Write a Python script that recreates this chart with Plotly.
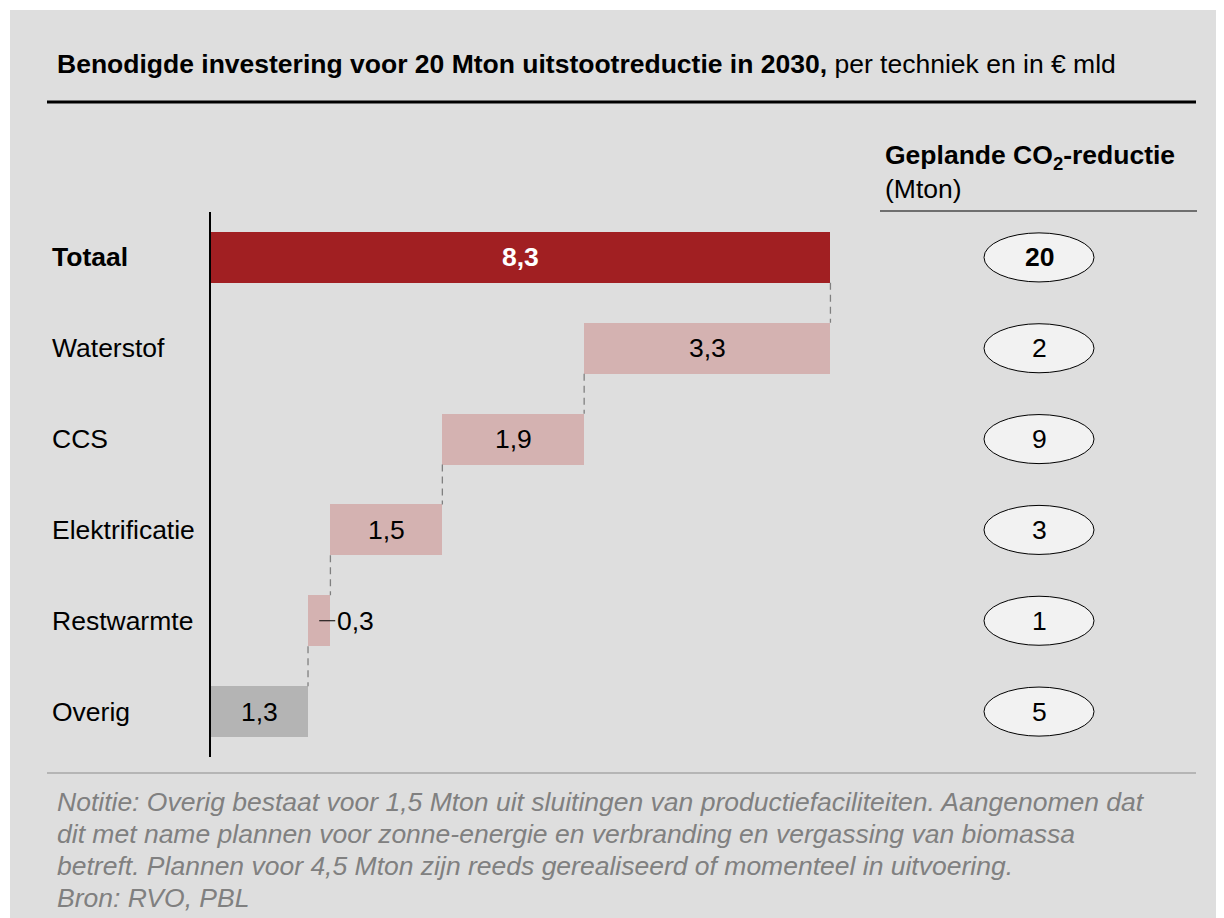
import plotly.graph_objects as go

categories = ["Totaal", "Waterstof", "CCS", "Elektrificatie", "Restwarmte", "Overig"]
invest = [8.3, 3.3, 1.9, 1.5, 0.3, 1.3]          # € mld
co2_reductie = [20, 2, 9, 3, 1, 5]               # Mton
bar_colors = ["#A11F22", "#D4B2B1", "#D4B2B1", "#D4B2B1", "#D4B2B1", "#B4B4B4"]

subtitle_bold = "Benodigde investering voor 20 Mton uitstootreductie in 2030,"
subtitle_rest = " per techniek en in € mld"
notes = [
    "Notitie: Overig bestaat voor 1,5 Mton uit sluitingen van productiefaciliteiten. Aangenomen dat",
    "dit met name plannen voor zonne-energie en verbranding en vergassing van biomassa",
    "betreft. Plannen voor 4,5 Mton zijn reeds gerealiseerd of momenteel in uitvoering.",
    "Bron: RVO, PBL",
]

FONT = "Liberation Sans, Arial, sans-serif"
FS = 26.5
OFF = 8                        # page body margin
W, H = 1224 - OFF, 918 - OFF
L, T = 211 - OFF, 212 - OFF    # plot area origin (figure px)
PW, PH = 709, 545
XMAX = 9.5

# helpers take page pixel positions
def px(x):
    return (x - OFF - L) / PW

def py(y):
    return 1 - (y - OFF - T) / PH

# waterfall bases: Totaal and the lowest part start at 0, others stack from below
n = len(categories)
bases = [0.0] * n
run = 0.0
for i in range(n - 1, 0, -1):
    bases[i] = run
    run += invest[i]

ys = list(range(n))
bar_w = 0.56

fig = go.Figure()
fig.add_trace(go.Bar(
    y=ys, x=invest, base=bases, orientation="h", width=bar_w,
    marker=dict(color=bar_colors, line=dict(width=0)),
    hoverinfo="skip", showlegend=False))

fmt = lambda v: f"{v:.1f}".replace(".", ",")
ann = []
shapes = []

for i, (c, v, b) in enumerate(zip(categories, invest, bases)):
    # category label
    ann.append(dict(x=px(50), xref="paper", y=i, yref="y", xanchor="left", yanchor="middle",
                    text=f"<b>{c}</b>" if i == 0 else c, showarrow=False,
                    font=dict(size=FS, color="black")))
    # value label
    if v < 0.5:
        ann.append(dict(x=b + v / 2, y=i, xref="x", yref="y", text=fmt(v),
                        showarrow=True, arrowhead=0, arrowwidth=1, arrowcolor="black",
                        ax=16, ay=0, xanchor="left", yanchor="middle",
                        font=dict(size=FS, color="black")))
    else:
        ann.append(dict(x=b + v / 2, y=i, xref="x", yref="y", xanchor="center", yanchor="middle",
                        text=f"<b>{fmt(v)}</b>" if i == 0 else fmt(v), showarrow=False,
                        font=dict(size=FS, color="white" if i == 0 else "black")))
    # CO2 ellipse
    shapes.append(dict(type="circle", xref="paper", yref="y",
                       x0=px(984), x1=px(1094), y0=i - 0.27, y1=i + 0.27,
                       fillcolor="#F2F2F2", line=dict(color="black", width=1)))
    ann.append(dict(x=px(1039), xref="paper", y=i, yref="y", xanchor="center", yanchor="middle",
                    text=f"<b>{co2_reductie[i]}</b>" if i == 0 else str(co2_reductie[i]),
                    showarrow=False, font=dict(size=FS, color="black")))

# dashed connectors
for i in range(n - 1):
    xc = bases[i + 1] + invest[i + 1]
    shapes.append(dict(type="line", xref="x", yref="y", x0=xc, x1=xc,
                       y0=i + bar_w / 2, y1=i + 1 - bar_w / 2,
                       line=dict(color="#808080", width=1.3, dash="7px,5px")))

# frame: white strips around the grey panel, rules
shapes += [
    dict(type="rect", xref="paper", yref="paper", x0=px(0), x1=px(1230), y0=py(0), y1=py(10),
         fillcolor="white", line=dict(width=0), layer="below"),
    dict(type="rect", xref="paper", yref="paper", x0=px(0), x1=px(10), y0=py(0), y1=py(930),
         fillcolor="white", line=dict(width=0), layer="below"),
    dict(type="line", xref="paper", yref="paper", x0=px(47), x1=px(1196), y0=py(102), y1=py(102),
         line=dict(color="black", width=3)),
    dict(type="line", xref="paper", yref="paper", x0=px(880), x1=px(1197), y0=py(211), y1=py(211),
         line=dict(color="black", width=1.2)),
    dict(type="line", xref="paper", yref="paper", x0=px(47), x1=px(1196), y0=py(773), y1=py(773),
         line=dict(color="#8C8C8C", width=1.2)),
]

ann.append(dict(x=px(55), y=py(64), xref="paper", yref="paper", xanchor="left", yanchor="middle",
                text=f"<b>{subtitle_bold}</b>{subtitle_rest}", showarrow=False,
                font=dict(size=FS, color="black")))
ann.append(dict(x=px(883), y=py(157), xref="paper", yref="paper", xanchor="left", yanchor="middle",
                text="<b>Geplande CO<sub>2</sub>-reductie</b>", showarrow=False,
                font=dict(size=FS, color="black")))
ann.append(dict(x=px(883), y=py(189), xref="paper", yref="paper", xanchor="left", yanchor="middle",
                text="(Mton)", showarrow=False, font=dict(size=FS, color="black")))
for k, line in enumerate(notes):
    ann.append(dict(x=px(55), y=py(802 + 32 * k), xref="paper", yref="paper",
                    xanchor="left", yanchor="middle",
                    text=f"<i>{line}</i>", showarrow=False,
                    font=dict(size=FS, color="#808080")))

fig.update_layout(
    width=W, height=H,
    margin=dict(l=L, r=W - L - PW, t=T, b=H - T - PH),
    paper_bgcolor="#DEDEDE", plot_bgcolor="rgba(0,0,0,0)",
    font=dict(family=FONT),
    xaxis=dict(range=[0, XMAX], visible=False, fixedrange=True),
    yaxis=dict(range=[n - 0.5, -0.5], showline=True, linecolor="black", linewidth=1.5,
               showticklabels=False, ticks="", showgrid=False, zeroline=False, fixedrange=True),
    annotations=ann, shapes=shapes, bargap=0,
)

fig.write_html("out.html")
